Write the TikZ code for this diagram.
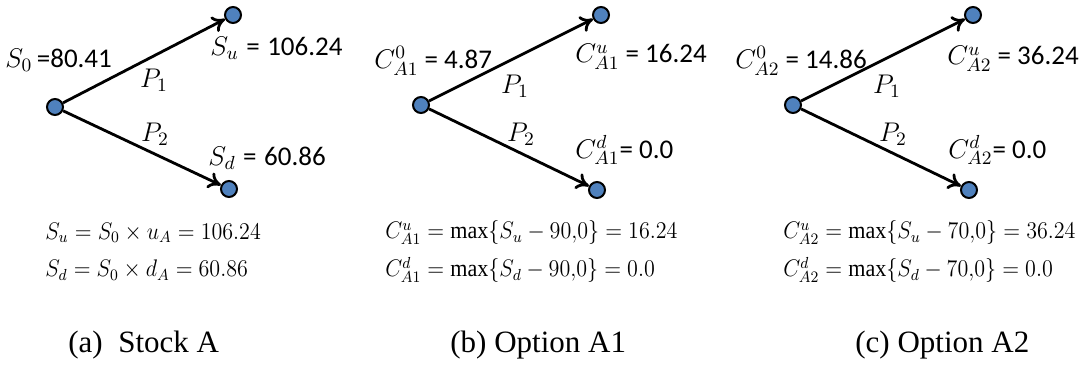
\RequirePackage{fix-cm}
\documentclass[tikz,border=0pt]{standalone}
\usepackage{fontspec}
\usepackage{graphicx}
\setmainfont{Liberation Serif}
\newfontfamily\calfont{Carlito}
\usetikzlibrary{arrows.meta,positioning}
\definecolor{nodeBlue}{HTML}{4F81BD}
\newcommand{\narroweq}[1]{\scalebox{0.92}[1]{#1}}
\tikzset{
  treenode/.style={circle, draw=black, line width=1pt, fill=nodeBlue,
    minimum size=8pt, inner sep=0pt},
  branch/.style={-{To[length=2.2mm,width=3mm]}, line width=1.4pt, draw=black},
  valtext/.style={font=\calfont\fontsize{13.5}{15}\selectfont, inner sep=0pt},
  problabel/.style={font=\fontsize{13.5}{15}\selectfont, inner sep=0pt},
  eqtext/.style={font=\fontsize{12}{14}\selectfont, inner sep=0pt, anchor=west},
  captext/.style={font=\fontsize{15.5}{18}\selectfont, inner sep=0pt}
}
\begin{document}
\begin{tikzpicture}[x=0.5pt, y=-0.5pt]
  \useasboundingbox (0,0) rectangle (1083,367);

  % (a) stock A
  \node[treenode] (ra) at (55,107) {};
  \node[treenode] (ua) at (233,15) {};
  \node[treenode] (da) at (229,189) {};
  \draw[branch] (ra) -- (ua);
  \draw[branch] (ra) -- (da);
  \node[valtext, anchor=west] (s0) at (5,60) {$S_0$\,=80.41};
  \node[valtext, anchor=west] (su) at (210,48) {$S_u$\;=\;106.24};
  \node[valtext, anchor=west] (sd) at (208,158) {$S_d$\;=\;60.86};
  \node[problabel] (pa1) at (154,80) {$P_1$};
  \node[problabel] (pa2) at (155,134) {$P_2$};
  \node[eqtext] (eqa1) at (45,233) {\narroweq{$S_u = S_0 \times u_A = 106.24$}};
  \node[eqtext] (eqa2) at (45,270) {\narroweq{$S_d = S_0 \times d_A = 60.86$}};
  \node[captext, anchor=west] (capa) at (68,345) {(a)\ \ Stock A};

  % (b) option A1
  \node[treenode] (rb) at (421,105) {};
  \node[treenode] (ub) at (601,15) {};
  \node[treenode] (db) at (597,190) {};
  \draw[branch] (rb) -- (ub);
  \draw[branch] (rb) -- (db);
  \node[valtext, anchor=west] (c0b) at (374,61) {$C^0_{A1}$ = 4.87};
  \node[valtext, anchor=west] (cub) at (575,57) {$C^u_{A1}$ = 16.24};
  \node[valtext, anchor=west] (cdb) at (575,150) {$C^d_{A1}$= 0.0};
  \node[problabel] (pb1) at (515,86) {$P_1$};
  \node[problabel] (pb2) at (521,134) {$P_2$};
  \node[eqtext] (eqb1) at (385,233) {\narroweq{$C^u_{A1} = \max\{S_u - 90{,}0\} = 16.24$}};
  \node[eqtext] (eqb2) at (385,270) {\narroweq{$C^d_{A1} = \max\{S_d - 90{,}0\} = 0.0$}};
  \node[captext, anchor=west] (capb) at (450,345) {(b) Option A1};

  % (c) option A2
  \node[treenode] (rc) at (793,105) {};
  \node[treenode] (uc) at (973,15) {};
  \node[treenode] (dc) at (969,190) {};
  \draw[branch] (rc) -- (uc);
  \draw[branch] (rc) -- (dc);
  \node[valtext, anchor=west] (c0c) at (735,61) {$C^0_{A2}$ = 14.86};
  \node[valtext, anchor=west] (cuc) at (947,59) {$C^u_{A2}$ = 36.24};
  \node[valtext, anchor=west] (cdc) at (948,150) {$C^d_{A2}$= 0.0};
  \node[problabel] (pc1) at (887,86) {$P_1$};
  \node[problabel] (pc2) at (893,134) {$P_2$};
  \node[eqtext] (eqc1) at (783,233) {\narroweq{$C^u_{A2} = \max\{S_u - 70{,}0\} = 36.24$}};
  \node[eqtext] (eqc2) at (783,270) {\narroweq{$C^d_{A2} = \max\{S_d - 70{,}0\} = 0.0$}};
  \node[captext, anchor=west] (capc) at (855,345) {(c) Option A2};
\end{tikzpicture}
\end{document}
